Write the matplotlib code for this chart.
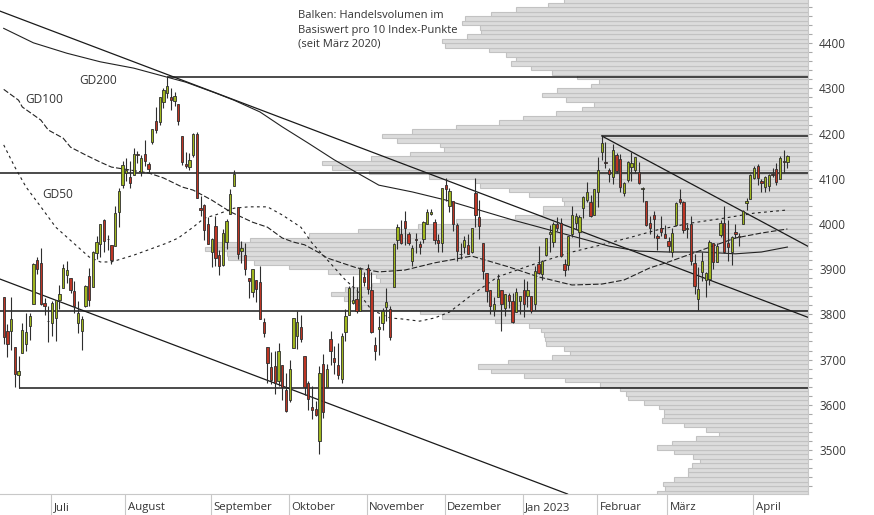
import numpy as np
import pandas as pd
import matplotlib
matplotlib.use('Agg')
import matplotlib.pyplot as plt
from matplotlib.ticker import MultipleLocator, NullFormatter

plt.rcParams['font.family'] = ['Open Sans', 'DejaVu Sans']

# trading calendar (US market, mid June 2022 - mid April 2023)
holidays = ['2022-06-20', '2022-07-04', '2022-09-05', '2022-11-24', '2022-12-26',
            '2023-01-02', '2023-01-16', '2023-02-20', '2023-04-07']
days = pd.bdate_range('2022-06-13', '2023-04-17')
days = days[~days.isin(pd.to_datetime(holidays))]

# daily candles, one row per month
opens = [
    3838, 3764, 3764, 3728, 3666, 3715, 3734, 3775, 3822, 3921, 3913, 3825, 3786,
    3781, 3793, 3832, 3859, 3888, 3881, 3852, 3780, 3764, 3818, 3884, 3861, 3935, 3955, 4008, 3966, 3953, 3951, 4026, 4087,
    4112, 4104, 4108, 4155, 4116, 4156, 4133, 4181, 4227, 4225, 4269, 4290, 4280, 4273, 4266, 4195, 4133, 4127, 4153, 4199, 4035, 4041, 4001,
    3937, 3995, 3931, 3909, 3960, 4023, 4084, 4037, 3941, 3932, 3881, 3850, 3875, 3871, 3782, 3727, 3683, 3686, 3652, 3687, 3633,
    3610, 3726, 3753, 3772, 3707, 3648, 3596, 3591, 3520, 3690, 3639, 3746, 3703, 3689, 3657, 3762, 3799, 3826, 3835, 3808, 3882,
    3902, 3853, 3733, 3767, 3781, 3817, 3811, 3860, 3964, 3978, 4006, 3977, 3919, 3966, 3956, 3966, 4000, 4023, 4005, 3964, 3957,
    4087, 4040, 4052, 3997, 3933, 3948, 3954, 3939, 4069, 4016, 3958, 3891, 3854, 3810, 3839, 3853, 3815, 3843, 3830, 3805, 3829,
    3853, 3840, 3840, 3823, 3911, 3889, 3932, 3978, 3961, 3999, 4002, 3912, 3909, 3978, 4002, 3983, 4036, 4054, 4049, 4021,
    4070, 4159, 4137, 4120, 4105, 4153, 4144, 4069, 4097, 4127, 4120, 4115, 4077, 4052, 4002, 4019, 3973, 3992, 3977,
    3963, 3939, 3998, 4055, 4048, 3988, 3999, 3913, 3835, 3894, 3877, 3879, 3959, 3917, 3976, 4002, 3959, 3939, 3983, 3974, 4000, 4047, 4056,
    4102, 4128, 4095, 4081, 4085, 4110, 4122, 4100, 4140, 4137,
]
highs = [
    3838, 3778, 3838, 3728, 3708, 3780, 3802, 3803, 3914, 3928, 3946, 3837, 3819,
    3830, 3832, 3865, 3911, 3919, 3881, 3873, 3829, 3796, 3864, 3902, 3940, 3974, 3999, 4012, 3975, 3953, 4040, 4079, 4140,
    4145, 4140, 4168, 4161, 4152, 4187, 4137, 4211, 4258, 4280, 4302, 4325, 4302, 4293, 4266, 4195, 4160, 4157, 4201, 4203, 4063, 4045, 4015,
    3970, 4018, 3943, 3988, 4011, 4077, 4119, 4037, 3962, 3959, 3881, 3900, 3876, 3907, 3791, 3727, 3716, 3718, 3737, 3687, 3671,
    3698, 3792, 3807, 3798, 3707, 3652, 3641, 3608, 3685, 3712, 3690, 3763, 3729, 3736, 3758, 3811, 3863, 3886, 3860, 3905, 3894,
    3912, 3894, 3751, 3796, 3814, 3859, 3818, 3958, 4001, 4009, 4029, 3983, 3954, 3980, 3962, 4006, 4034, 4034, 4012, 3977, 4080,
    4101, 4080, 4052, 4002, 3958, 3974, 3977, 3991, 4101, 4054, 3958, 3891, 3855, 3838, 3890, 3853, 3846, 3847, 3848, 3858, 3840,
    3878, 3873, 3840, 3906, 3951, 3920, 3970, 3998, 4004, 4015, 4014, 3923, 3973, 4039, 4024, 4020, 4062, 4094, 4064, 4077,
    4149, 4195, 4182, 4125, 4177, 4157, 4156, 4094, 4139, 4160, 4148, 4137, 4082, 4052, 4017, 4028, 3978, 4018, 3998,
    3972, 3991, 4048, 4078, 4050, 4000, 4018, 3934, 3905, 3937, 3894, 3964, 3959, 3957, 4009, 4039, 4008, 3973, 4000, 3979, 4031, 4058, 4111,
    4128, 4133, 4100, 4107, 4110, 4124, 4134, 4150, 4163, 4152,
]
lows = [
    3734, 3706, 3722, 3640, 3637, 3715, 3718, 3744, 3822, 3890, 3820, 3799, 3739,
    3752, 3742, 3811, 3859, 3869, 3847, 3802, 3759, 3722, 3817, 3819, 3861, 3922, 3928, 3939, 3943, 3911, 3951, 3993, 4079,
    4096, 4080, 4108, 4135, 4107, 4129, 4112, 4177, 4201, 4220, 4257, 4278, 4253, 4262, 4219, 4130, 4124, 4120, 4148, 4058, 4017, 3965, 3955,
    3904, 3906, 3887, 3906, 3945, 4023, 4084, 3922, 3913, 3888, 3837, 3839, 3828, 3789, 3749, 3647, 3645, 3623, 3641, 3610, 3584,
    3605, 3726, 3723, 3739, 3621, 3588, 3568, 3574, 3492, 3570, 3639, 3687, 3667, 3656, 3647, 3742, 3799, 3824, 3804, 3808, 3863,
    3844, 3759, 3698, 3709, 3765, 3786, 3744, 3860, 3945, 3956, 3953, 3954, 3907, 3936, 3933, 3957, 3999, 4021, 3956, 3938, 3939,
    4051, 4027, 3984, 3918, 3923, 3936, 3933, 3935, 3993, 3966, 3879, 3828, 3800, 3796, 3839, 3764, 3797, 3813, 3781, 3805, 3800,
    3794, 3816, 3802, 3810, 3890, 3877, 3929, 3938, 3948, 3985, 3927, 3886, 3898, 3972, 3990, 3949, 4013, 4049, 4016, 4020,
    4037, 4142, 4123, 4093, 4088, 4112, 4070, 4061, 4093, 4095, 4113, 4089, 4048, 3995, 3977, 3969, 3943, 3974, 3969,
    3939, 3928, 3995, 4045, 3980, 3970, 3909, 3846, 3809, 3874, 3838, 3864, 3901, 3917, 3971, 3936, 3919, 3909, 3970, 3952, 4000, 4032, 4056,
    4099, 4087, 4070, 4070, 4073, 4103, 4087, 4099, 4113, 4123,
]
closes = [
    3750, 3735, 3790, 3667, 3675, 3765, 3760, 3796, 3912, 3900, 3822, 3819, 3785,
    3825, 3831, 3845, 3903, 3899, 3854, 3819, 3802, 3790, 3863, 3831, 3937, 3960, 3999, 3962, 3967, 3921, 4024, 4072, 4130,
    4119, 4091, 4155, 4152, 4145, 4140, 4122, 4210, 4207, 4280, 4297, 4305, 4274, 4284, 4228, 4138, 4129, 4141, 4199, 4058, 4031, 3986, 3955,
    3967, 3924, 3908, 3980, 4006, 4067, 4110, 3933, 3946, 3901, 3873, 3900, 3856, 3790, 3758, 3693, 3655, 3647, 3719, 3640, 3586,
    3678, 3791, 3783, 3745, 3640, 3612, 3589, 3577, 3670, 3583, 3678, 3720, 3695, 3666, 3753, 3797, 3859, 3831, 3807, 3901, 3872,
    3856, 3760, 3720, 3771, 3807, 3828, 3749, 3956, 3993, 3957, 3992, 3959, 3947, 3965, 3950, 4004, 4027, 4026, 3964, 3958, 4080,
    4077, 4072, 3999, 3941, 3934, 3964, 3934, 3991, 4020, 3995, 3896, 3852, 3818, 3822, 3878, 3822, 3845, 3829, 3783, 3849, 3840,
    3824, 3853, 3808, 3895, 3892, 3919, 3970, 3983, 3999, 3991, 3929, 3899, 3973, 4020, 4017, 4016, 4060, 4071, 4018, 4077,
    4119, 4180, 4136, 4111, 4164, 4118, 4082, 4090, 4137, 4136, 4148, 4090, 4079, 3997, 3991, 4012, 3970, 3982, 3970,
    3951, 3981, 4046, 4048, 3986, 3992, 3918, 3862, 3856, 3919, 3892, 3960, 3917, 3952, 4003, 3937, 3949, 3971, 3978, 3971, 4028, 4051, 4109,
    4125, 4101, 4090, 4105, 4109, 4109, 4092, 4146, 4138, 4151,
]

# moving averages: (trading day number, index level)
gd50_day = [0, 3, 6, 10, 14, 20, 23, 26, 29, 35, 39, 44, 47, 51, 54, 57, 62, 66, 71, 75, 80, 83, 86, 92, 95,
            99, 104, 107, 112, 116, 120, 126, 133, 142, 153, 161, 169, 176, 185, 194, 202, 211]
gd50_val = [4175, 4126, 4082, 4038, 3993, 3949, 3927, 3916, 3916, 3931, 3943, 3958, 3969, 3993, 4013, 4020, 4035,
            4038, 4038, 4020, 3993, 3958, 3931, 3876, 3854, 3810, 3792, 3790, 3785, 3792, 3805, 3843, 3883, 3909,
            3938, 3954, 3971, 3987, 4002, 4013, 4024, 4031]
gd100_day = [0, 4, 5, 10, 12, 16, 18, 22, 26, 29, 39, 43, 48, 51, 56, 61, 67, 71, 75, 78, 81, 85, 87, 95, 101,
             108, 116, 126, 136, 144, 153, 161, 167, 174, 179, 197, 204, 211]
gd100_val = [4298, 4274, 4259, 4230, 4208, 4190, 4170, 4153, 4137, 4126, 4113, 4102, 4082, 4075, 4053, 4027, 4004,
             3993, 3969, 3960, 3954, 3936, 3925, 3903, 3894, 3898, 3914, 3929, 3905, 3883, 3865, 3867, 3876, 3903,
             3916, 3969, 3980, 3989]
gd200_day = [0, 8, 17, 26, 35, 44, 49, 57, 62, 69, 75, 82, 89, 101, 110, 119, 128, 137, 146, 155, 163, 171, 179,
             188, 197, 204, 211]
gd200_val = [4433, 4401, 4378, 4359, 4345, 4325, 4314, 4290, 4274, 4248, 4215, 4179, 4142, 4086, 4071, 4053, 4031,
             4009, 3989, 3969, 3951, 3940, 3938, 3938, 3934, 3938, 3949]

# trend lines: two anchor points each (trading day number, level)
trend_upper = [(44, 4331), (200, 3845)]
trend_lower = [(0, 3875), (150, 3408)]
trend_feb = [(161, 4195), (211, 3975)]
level_full = [4112, 3808]

# volume profile: traded volume per 10 index points (relative units), from 3400 upwards
profile_lo = np.arange(3400, 4500, 10)
profile_vol = [
    151, 143, 145, 134, 120, 120, 116, 108, 115, 134,   # 3400-3490
    151, 136, 112, 89, 102, 124, 146, 144, 144, 149,    # 3500-3590
    164, 180, 182, 188, 208, 243, 284, 317, 330, 300,   # 3600-3690
    256, 238, 244, 262, 263, 264, 267, 279, 313, 366,   # 3700-3790
    388, 446, 453, 464, 477, 463, 436, 428, 432, 480,   # 3800-3890
    519, 554, 580, 581, 603, 593, 558, 499, 450, 390,   # 3900-3990
    352, 293, 265, 265, 244, 246, 279, 299, 328, 333,   # 4000-4090
    379, 439, 476, 486, 437, 398, 364, 368, 411, 426,   # 4100-4190
    396, 352, 309, 285, 252, 226, 214, 242, 266, 251,   # 4200-4290
    217, 209, 231, 256, 277, 297, 292, 302, 319, 363,   # 4300-4390
    366, 341, 327, 328, 346, 343, 317, 292, 260, 244,   # 4400-4490
]

month_names = {7: 'Juli', 8: 'August', 9: 'September', 10: 'Oktober', 11: 'November', 12: 'Dezember',
               1: 'Jan 2023', 2: 'Februar', 3: 'März', 4: 'April'}

W, H = 874, 515
GREEN = '#9fb61e'
RED = '#bd3524'
EDGE = '#2e2e2e'
TXT = '#333333'

o = np.array(opens, float)
h = np.array(highs, float)
l = np.array(lows, float)
c = np.array(closes, float)
x = np.arange(len(days))
x_left, x_right = -1.0, 216.55
y_lo, y_hi = 3402.4, 4495.8

fig = plt.figure(figsize=(W / 100, H / 100), dpi=100)
ax = fig.add_axes([0, 21 / H, 808 / W, 494 / H])
axv = ax.twiny()
ax.set_zorder(axv.get_zorder() + 1)
ax.patch.set_visible(False)

# volume profile, bars growing from the right edge
axv.barh(profile_lo, profile_vol, height=10, align='edge', left=0,
         color='#dcdcdc', edgecolor='#c2c2c2', linewidth=0.8)
axv.set_xlim(808, 0)
axv.set_xticks([])
for s in axv.spines.values():
    s.set_visible(False)

# horizontal levels
i_peak = int(np.argmax(h))
i_feb = 150 + int(np.argmax(h[150:]))
i_jun = int(np.argmin(l[:10]))
ax.hlines(h[i_peak], i_peak, x_right, color='#1a1a1a', lw=1.1, zorder=2)
ax.hlines(h[i_feb], i_feb, x_right, color='#1a1a1a', lw=1.1, zorder=2)
ax.hlines(l[i_jun], i_jun, x_right, color='#1a1a1a', lw=1.1, zorder=2)
for lev in level_full:
    ax.hlines(lev, x_left, x_right, color='#1a1a1a', lw=1.1, zorder=2)

# trend lines
ax.axline(trend_upper[0], trend_upper[1], color='#1a1a1a', lw=0.9, zorder=2)
ax.axline(trend_lower[0], trend_lower[1], color='#1a1a1a', lw=0.9, zorder=2)
(fx0, fy0), (fx1, fy1) = trend_feb
slope = (fy1 - fy0) / (fx1 - fx0)
ax.plot([fx0, x_right], [fy0, fy0 + slope * (x_right - fx0)], color='#1a1a1a', lw=0.9, zorder=2)

# moving averages
ax.plot(gd200_day, gd200_val, color='#222222', lw=0.8, zorder=2)
ax.plot(gd100_day, gd100_val, color='#222222', lw=0.8, ls=(0, (5, 2)), zorder=2)
ax.plot(gd50_day, gd50_val, color='#222222', lw=0.8, ls=(0, (2.5, 3)), zorder=2)

# candles
up = c >= o
ax.vlines(x, l, h, color=EDGE, lw=0.8, zorder=3)
body_lo = np.minimum(o, c)
body_h = np.maximum(np.abs(c - o), 1.0)
ax.bar(x, body_h, bottom=body_lo, width=0.62, color=np.where(up, GREEN, RED),
       edgecolor=EDGE, linewidth=0.6, zorder=4)

ax.set_xlim(x_left, x_right)
ax.set_ylim(y_lo, y_hi)

# right price axis
ax.yaxis.tick_right()
ax.yaxis.set_major_locator(MultipleLocator(100))
ax.yaxis.set_minor_locator(MultipleLocator(20))
ax.yaxis.set_minor_formatter(NullFormatter())
ax.tick_params(axis='y', which='both', length=3, width=0.8, color='#a8a8a8',
               labelsize=8.5, labelcolor='#3a3a3a', pad=5)
for side in ['left', 'top']:
    ax.spines[side].set_visible(False)
ax.spines['right'].set_color('#c8c8c8')
ax.spines['bottom'].set_color('#c8c8c8')

# month separators and labels
month_start = [i for i in range(1, len(days)) if days[i].month != days[i - 1].month]
ax.set_xticks([i - 0.3 for i in month_start])
ax.set_xticklabels([])
ax.tick_params(axis='x', length=15, width=0.8, color='#c8c8c8', direction='out')
for i in month_start:
    ax.annotate(month_names[days[i].month], xy=(i - 0.3, 0), xycoords=('data', 'axes fraction'),
                xytext=(2, -9.5), textcoords='offset points', ha='left', va='center',
                fontsize=8.2, color=TXT)

# labels and note
fig.text(79 / W, 1 - 80.5 / H, 'GD200', fontsize=8.6, color=TXT, va='center')
fig.text(25 / W, 1 - 99.5 / H, 'GD100', fontsize=8.6, color=TXT, va='center')
fig.text(42 / W, 1 - 194 / H, 'GD50', fontsize=8.6, color=TXT, va='center')
note = ['Balken: Handelsvolumen im', 'Basiswert pro 10 Index-Punkte', '(seit März 2020)']
for k, line in enumerate(note):
    fig.text(298 / W, 1 - (16 + 14 * k) / H, line, fontsize=8, color=TXT, va='center')

fig.savefig('out.png', dpi=100)
